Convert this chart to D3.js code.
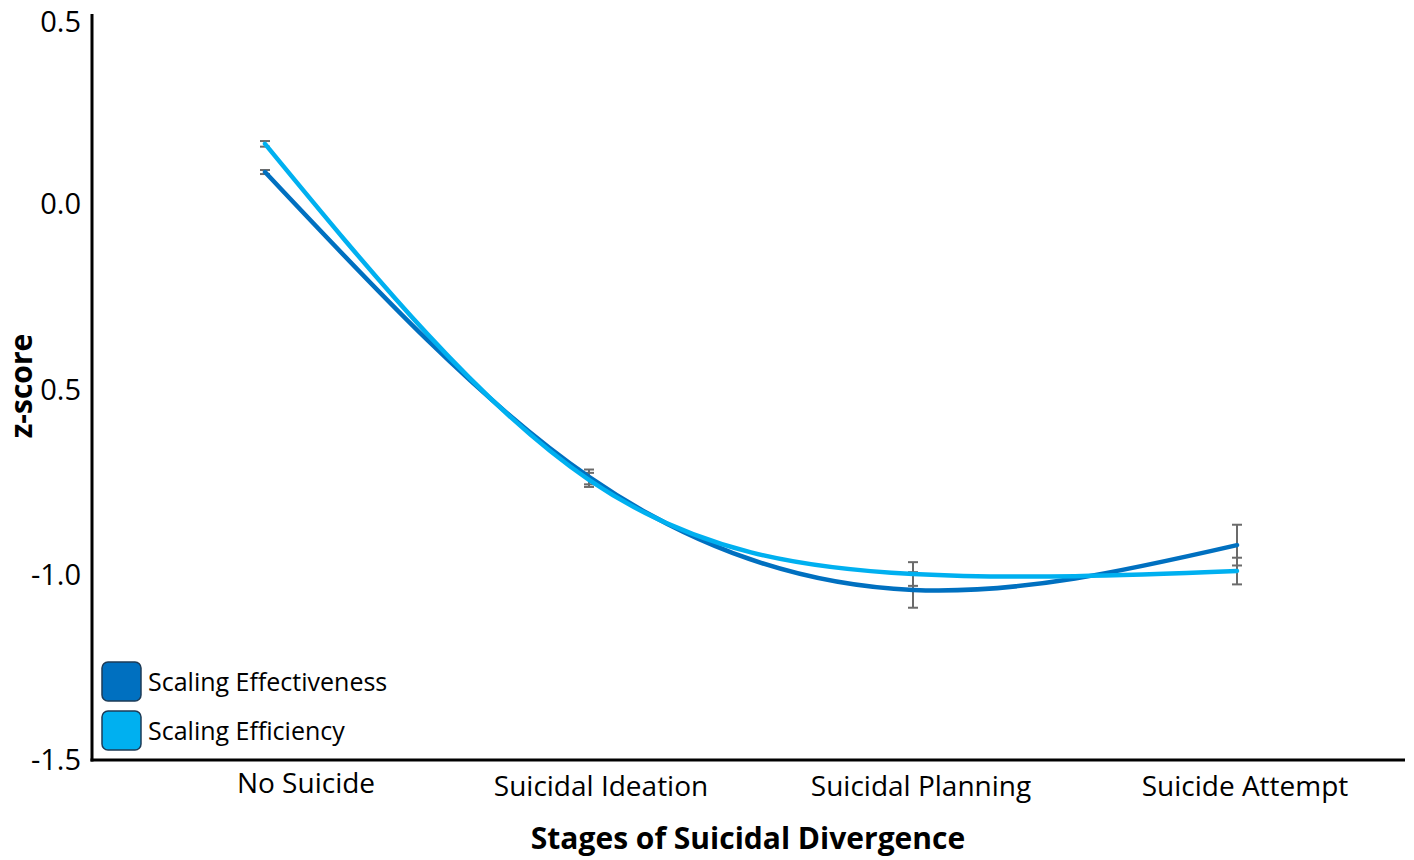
<!DOCTYPE html>
<html><head><meta charset="utf-8">
<script src="https://cdn.jsdelivr.net/npm/d3@7"></script>
<style>body{margin:0;background:#fff}svg{display:block}</style>
</head><body>
<script>
const categories = ["No Suicide","Suicidal Ideation","Suicidal Planning","Suicide Attempt"];
const effectiveness = [0.087, -0.736, -1.041, -0.920];
const effectivenessErr = [0.0055, 0.020, 0.048, 0.055];
const efficiency = [0.163, -0.744, -0.998, -0.990];
const efficiencyErr = [0.0076, 0.019, 0.032, 0.036];
const yTicks = [0.5, 0.0, -0.5, -1.0, -1.5];
const yTickLabels = ["0.5","0.0","0.5","-1.0","-1.5"];
const seriesNames = ["Scaling Effectiveness","Scaling Efficiency"];

const W = 1414, H = 860;
const colors = ["#0070C0", "#00B0F0"];
const font = "'Open Sans', sans-serif";
const svg = d3.select("body").append("svg").attr("width", W).attr("height", H);

const x = d3.scalePoint().domain(categories).range([265, 1237]);
const y = d3.scaleLinear().domain([-1.5, 0.5]).range([760, 19]);

const series = [
  {name: seriesNames[0], vals: effectiveness, err: effectivenessErr, color: colors[0]},
  {name: seriesNames[1], vals: efficiency, err: efficiencyErr, color: colors[1]}
];

// error bars
series.forEach(s => {
  const g = svg.append("g").attr("stroke", "#6b6b6b").attr("stroke-width", 2);
  categories.forEach((c, i) => {
    const cx = x(c), y1 = y(s.vals[i] + s.err[i]), y2 = y(s.vals[i] - s.err[i]);
    g.append("line").attr("x1", cx).attr("x2", cx).attr("y1", y1).attr("y2", y2);
    g.append("line").attr("x1", cx - 5).attr("x2", cx + 5).attr("y1", y1).attr("y2", y1);
    g.append("line").attr("x1", cx - 5).attr("x2", cx + 5).attr("y1", y2).attr("y2", y2);
  });
});

// lines
const line = d3.line().x((d, i) => x(categories[i])).y(d => y(d)).curve(d3.curveNatural);
series.forEach(s => {
  svg.append("path").attr("d", line(s.vals)).attr("fill", "none")
    .attr("stroke", s.color).attr("stroke-width", 4.5).attr("stroke-linecap", "round");
});

// axes
svg.append("line").attr("x1", 92).attr("x2", 92).attr("y1", 14).attr("y2", 761.5)
  .attr("stroke", "#000").attr("stroke-width", 3);
svg.append("line").attr("x1", 90.5).attr("x2", 1405).attr("y1", 760).attr("y2", 760)
  .attr("stroke", "#000").attr("stroke-width", 3);

svg.append("g").selectAll("text").data(yTicks).join("text")
  .attr("x", 81).attr("y", d => Math.max(y(d), 22)).attr("dy", "0.35em")
  .attr("text-anchor", "end").attr("font-family", font).attr("font-size", 29)
  .attr("fill", "#000").text((d, i) => yTickLabels[i]);

const labelDx = [41, 12, 8, 8];
const labelBase = [793, 796, 796, 796];
svg.append("g").selectAll("text").data(categories).join("text")
  .attr("x", (d, i) => x(d) + labelDx[i]).attr("y", (d, i) => labelBase[i])
  .attr("text-anchor", "middle").attr("font-family", font).attr("font-size", 28)
  .attr("fill", "#000").text(d => d);

svg.append("text").attr("x", 748).attr("y", 849).attr("text-anchor", "middle")
  .attr("font-family", font).attr("font-size", 30).attr("font-weight", "bold")
  .text("Stages of Suicidal Divergence");

svg.append("text").attr("transform", "translate(32,386) rotate(-90)")
  .attr("text-anchor", "middle").attr("font-family", font).attr("font-size", 30)
  .attr("font-weight", "bold").text("z-score");

// legend
series.forEach((s, i) => {
  const ly = 662 + i * 49;
  svg.append("rect").attr("x", 102).attr("y", ly).attr("width", 39).attr("height", 39)
    .attr("rx", 6).attr("fill", s.color).attr("stroke", "#1d3b57").attr("stroke-width", 1.5);
  svg.append("text").attr("x", 148).attr("y", ly + 29).attr("font-family", font)
    .attr("font-size", 25).attr("fill", "#000").text(s.name);
});
</script>
</body></html>
